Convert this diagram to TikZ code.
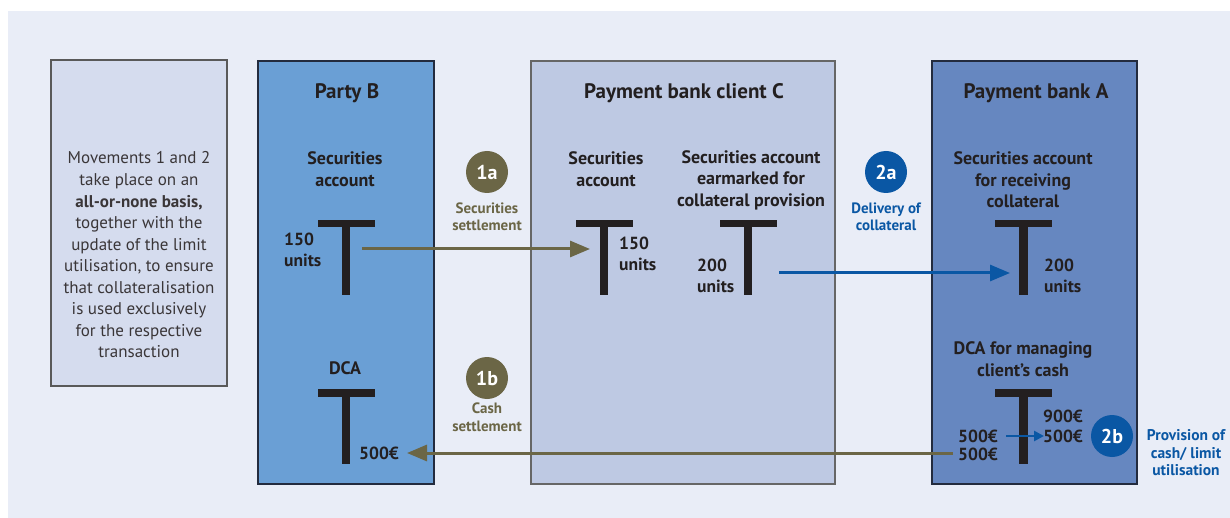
\documentclass[tikz,border=0pt]{standalone}
\usepackage{fontspec}
\setmainfont{PT Sans}
\usetikzlibrary{arrows.meta,positioning}
\definecolor{bgc}{HTML}{E9EDF7}
\definecolor{notec}{HTML}{D5DCEE}
\definecolor{partyc}{HTML}{6A9FD5}
\definecolor{clientc}{HTML}{BEC9E3}
\definecolor{bankc}{HTML}{6687C0}
\definecolor{olive}{HTML}{6B6646}
\definecolor{blu}{HTML}{0A57A4}
\definecolor{txt}{HTML}{231F20}
\definecolor{notetxt}{HTML}{3A3638}
\definecolor{edgedark}{HTML}{232B3E}
\tikzset{
  panel/.style={draw=#1, line width=1.1pt},
  title/.style={font=\bfseries\fontsize{21}{22}\selectfont, text=txt},
  acct/.style={font=\bfseries\fontsize{18}{21.5}\selectfont, text=txt, align=center, inner sep=0pt},
  amt/.style={font=\bfseries\fontsize{17.5}{21}\selectfont, text=txt, align=left, inner sep=0pt, anchor=west},
  badge/.style={circle, fill=#1, text=white, minimum size=42pt, inner sep=0pt, font=\bfseries\fontsize{20}{20}\selectfont},
  blab/.style={font=\bfseries\fontsize{15}{17.5}\selectfont, text=#1, align=center, inner sep=0pt},
  flow/.style={draw=#1, line width=3pt, -{Triangle[length=20pt,width=16pt]}},
  tbar/.style={fill=txt},
}
\begin{document}
\begin{tikzpicture}[x=1pt,y=-1pt]
\useasboundingbox (0,0) rectangle (1230,518);
\fill[bgc] (8,11) rectangle (1230,518);
% panels
\draw[panel=gray!70!black, fill=notec] (51,60) rectangle (227,386);
\draw[panel=edgedark, fill=partyc] (258,61) rectangle (434,484);
\draw[panel=gray!80!black, fill=clientc] (531,61) rectangle (835,484);
\draw[panel=edgedark, fill=bankc] (932,61) rectangle (1137,484);
% note text
\node[font=\fontsize{17}{21.55}\selectfont, text=notetxt, align=center, inner sep=0pt] (note) at (139,255)
 {Movements 1 and 2\\take place on an\\\textbf{all-or-none basis,}\\together with the\\update of the limit\\utilisation, to ensure\\that collateralisation\\is used exclusively\\for the respective\\transaction};
% titles
\node[title] (tB) at (347,93) {Party B};
\node[title] (tC) at (684,93) {Payment bank client C};
\node[title] (tA) at (1036,93) {Payment bank A};
% account headings
\node[acct] (hB1) at (345,169) {Securities\\account};
\node[acct] (hC1) at (606,169) {Securities\\account};
\node[acct] (hC2) at (751,180) {Securities account\\earmarked for\\collateral provision};
\node[acct] (hA1) at (1023,180) {Securities account\\for receiving\\collateral};
\node[acct] (hB2) at (345,368) {DCA};
\node[acct] (hA2) at (1023,359) {DCA for managing\\client's cash};
% T accounts
\foreach \cx/\ty in {346/220, 604/220, 748/220, 1023.5/220, 346/389, 1023.5/389}{
  \fill[tbar] (\cx-28.5,\ty) rectangle (\cx+28.5,\ty+7.5);
  \fill[tbar] (\cx-4.3,\ty) rectangle (\cx+4.3,\ty+75);
}
% amounts
\node[amt] (aB1) at (284,250) {150\\units};
\node[amt] (aC1) at (619,254) {150\\units};
\node[amt] (aC2) at (697,276) {200\\units};
\node[amt] (aA1) at (1044,276) {200\\units};
\node[amt] (aB2) at (359,453) {500€};
\node[amt, font=\bfseries\fontsize{17.5}{18}\selectfont] (aA2l) at (958,445) {500€\\500€};
\node[amt, font=\bfseries\fontsize{17.5}{20}\selectfont] (aA2r) at (1043,426) {900€\\500€};
% badges
\node[badge=olive] (b1a) at (487,172) {1a};
\node[blab=olive] (l1a) at (487,217) {Securities\\settlement};
\node[badge=olive] (b1b) at (487,378) {1b};
\node[blab=olive] (l1b) at (487,417) {Cash\\settlement};
\node[badge=blu] (b2a) at (886,172) {2a};
\node[blab=blu] (l2a) at (886,217) {Delivery of\\collateral};
\node[badge=blu] (b2b) at (1112,436) {2b};
\node[blab=blu, font=\bfseries\fontsize{15.5}{17.5}\selectfont] (l2b) at (1186,453) {Provision of\\cash/ limit\\utilisation};
% arrow end points
\coordinate (s1a) at (362,249);
\coordinate (e1a) at (590,249);
\coordinate (s2a) at (779,273);
\coordinate (e2a) at (1010,273);
\coordinate (s1b) at (953,453);
\coordinate (e1b) at (407,453);
\coordinate (s2b) at (1006,436);
\coordinate (e2b) at (1044,436);
\draw[flow=olive] (s1a) -- (e1a);
\draw[flow=blu] (s2a) -- (e2a);
\draw[flow=olive] (s1b) -- (e1b);
\draw[draw=blu, line width=2.5pt, -{Triangle[length=10pt,width=10pt]}] (s2b) -- (e2b);
\end{tikzpicture}
\end{document}
